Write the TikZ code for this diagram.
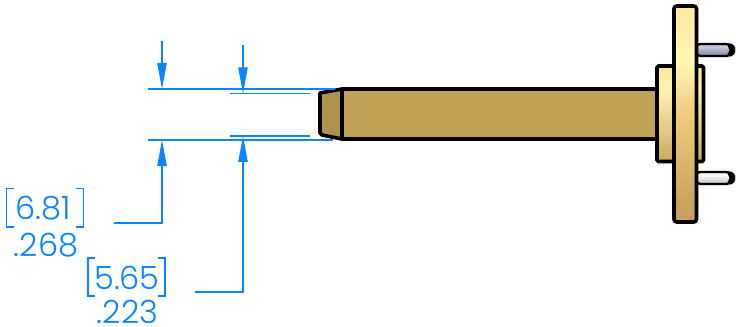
\documentclass[tikz,border=0pt]{standalone}
\usepackage{fontspec}
\setmainfont{Poppins}[UprightFont=* Light]
\usetikzlibrary{arrows.meta}
\definecolor{dimblue}{HTML}{0A84FF}
\definecolor{shaft}{HTML}{C2A258}
\definecolor{tipc}{HTML}{B09250}
\definecolor{fa}{HTML}{A4874A}
\definecolor{fb}{HTML}{C9A55F}
\definecolor{fc}{HTML}{F0CB7E}
\definecolor{fd}{HTML}{FFF6B4}
\definecolor{fe}{HTML}{FFE9A0}
\definecolor{ff}{HTML}{F7CE7E}
\definecolor{fg}{HTML}{E3BB6E}
\definecolor{ha}{HTML}{A08345}
\definecolor{hb}{HTML}{CBA862}
\definecolor{hc}{HTML}{FFF3B0}
\definecolor{hd}{HTML}{E3BB6E}
\definecolor{pa}{HTML}{6E7288}
\definecolor{pb}{HTML}{8F94AE}
\definecolor{pc}{HTML}{C8CCDC}
\definecolor{qa}{HTML}{6A6A6A}
\definecolor{qb}{HTML}{D8D8D8}
\definecolor{qc}{HTML}{8A8A8A}
\tikzset{
  dimline/.style={draw=dimblue,line width=0.9pt},
  dimarrow/.style={draw=dimblue,line width=0.9pt,-{Triangle[length=19.5pt,width=7pt,fill=dimblue]}},
  outline/.style={draw=black,line width=2.7pt,line join=round},
  pinline/.style={draw=black,line width=1.7pt,line join=round,rounded corners=3pt},
  dimtext/.style={text=dimblue,font=\fontsize{24}{25}\selectfont,inner sep=0pt,anchor=base},
  brack/.style={draw=dimblue,line width=0.8pt},
}
\pgfdeclareverticalshading{flangeshade}{100bp}{
  color(0bp)=(fa);color(30bp)=(fb);color(50bp)=(fc);color(62bp)=(fd);
  color(76bp)=(fe);color(90bp)=(ff);color(100bp)=(fg)}
\pgfdeclareverticalshading{hubshade}{100bp}{
  color(0bp)=(ha);color(25bp)=(hb);color(62bp)=(hc);color(72bp)=(fe);color(100bp)=(hd)}
\pgfdeclareverticalshading{pinupper}{100bp}{
  color(0bp)=(pa);color(35bp)=(pb);color(65bp)=(pc);color(100bp)=(pa)}
\pgfdeclareverticalshading{pinlower}{100bp}{
  color(0bp)=(qa);color(40bp)=(qb);color(65bp)=(white);color(100bp)=(qc)}
\begin{document}
\begin{tikzpicture}[x=0.75pt,y=-0.75pt]
\useasboundingbox (0,0) rectangle (740,327);
% pins
\draw[pinline,shading=pinupper] (696,44) -- (730,44) -- (734,47) -- (734,53) -- (730,56) -- (696,56) -- cycle;
\fill[black] (727,44) -- (731,44) -- (735,47) -- (735,53) -- (731,56) -- (727,56) -- (729.5,50) -- cycle;
\draw[pinline,shading=pinlower] (696,172) -- (730,172) -- (734,175) -- (734,181) -- (730,184) -- (696,184) -- cycle;
\fill[black] (727,172) -- (731,172) -- (735,175) -- (735,181) -- (731,184) -- (727,184) -- (729.5,178) -- cycle;
% shaft
\draw[outline,fill=shaft] (342,89) rectangle (657,139);
% tip
\draw[outline,fill=tipc] (342,89) -- (320,93) -- (320,133) -- (322,135) -- (342,139) -- cycle;
% hub
\draw[outline,shading=hubshade,rounded corners=1pt] (657,66) rectangle (703.5,161.5);
% flange
\draw[outline,shading=flangeshade,rounded corners=2pt] (674,6) rectangle (696.5,222);
% dimension lines
\coordinate (a1) at (148,89); \coordinate (a2) at (335,89);
\coordinate (b1) at (148,140); \coordinate (b2) at (333,140);
\coordinate (c1) at (230,93.5); \coordinate (c2) at (310,93.5);
\coordinate (d1) at (230,136); \coordinate (d2) at (310,136);
\draw[dimline] (a1) -- (a2);
\draw[dimline] (b1) -- (b2);
\draw[dimline] (c1) -- (c2);
\draw[dimline] (d1) -- (d2);
\coordinate (e0) at (162,41); \coordinate (e1) at (162,89);
\coordinate (f0) at (243,45); \coordinate (f1) at (243,93.5);
\coordinate (g0) at (114,223); \coordinate (g1) at (162,223); \coordinate (g2) at (162,140);
\coordinate (h0) at (195,292); \coordinate (h1) at (243,292); \coordinate (h2) at (243,136);
\draw[dimarrow] (e0) -- (e1);
\draw[dimarrow] (f0) -- (f1);
\draw[dimarrow] (g0) -- (g1) -- (g2);
\draw[dimarrow] (h0) -- (h1) -- (h2);
% texts
\node[dimtext] (t1) at (43.5,220) {6.81};
\node[dimtext] (t2) at (46,256.5) {.268};
\node[dimtext] (t3) at (127,290) {5.65};
\node[dimtext] (t4) at (127.5,324) {.223};
\draw[brack] (14,188.5) -- (6.5,188.5) -- (6.5,227) -- (14,227);
\draw[brack] (76,188.5) -- (83.5,188.5) -- (83.5,227) -- (76,227);
\draw[brack] (95,258) -- (88,258) -- (88,296) -- (95,296);
\draw[brack] (158,258) -- (165,258) -- (165,296) -- (158,296);
\end{tikzpicture}
\end{document}
